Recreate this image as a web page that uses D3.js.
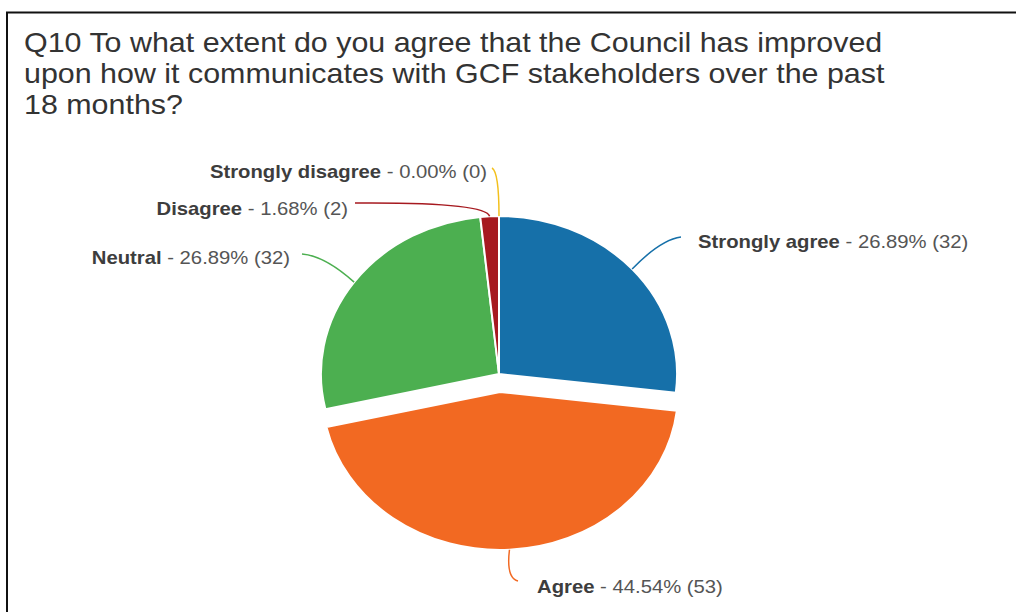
<!DOCTYPE html>
<html>
<head>
<meta charset="utf-8">
<script src="https://cdn.jsdelivr.net/npm/d3@7"></script>
<style>
  html, body { margin: 0; padding: 0; background: #fff; }
  svg { display: block; }
  text { font-family: "Liberation Sans", Arial, Helvetica, sans-serif; }
</style>
</head>
<body>
<svg id="chart" width="1016" height="612"></svg>
<script>
// Survey responses, in the order they are drawn clockwise from 12 o'clock
const categories = ["Strongly agree", "Agree", "Neutral", "Disagree", "Strongly disagree"];
const counts = [32, 53, 32, 2, 0];
const colors = ["#1670a9", "#f26922", "#4caf50", "#a6191f", "#f3c01c"];
const titleLines = [
  "Q10 To what extent do you agree that the Council has improved",
  "upon how it communicates with GCF stakeholders over the past",
  "18 months?"
];

const total = d3.sum(counts);
const data = categories.map((c, i) => ({ name: c, count: counts[i], color: colors[i] }));

// The whole panel is drawn a little wider than tall
const sx = 1.127;

const svg = d3.select("#chart");

// Frame around the panel
svg.append("rect")
  .attr("x", 7).attr("y", 12.5)
  .attr("width", 1030).attr("height", 640)
  .attr("fill", "none").attr("stroke", "#111").attr("stroke-width", 2);

// Title
svg.append("g").selectAll("text")
  .data(titleLines)
  .join("text")
  .attr("transform", (d, i) => `translate(24,${52 + i * 31}) scale(${sx},1)`)
  .attr("font-size", 27)
  .attr("fill", "#333")
  .text(d => d);

// Pie
const cx = 499, cy = 374, R = 158;
const pie = d3.pie().sort(null).value(d => d.count);
const arcs = pie(data);
const arc = d3.arc().innerRadius(0).outerRadius(R);
const explode = { "Agree": 18 };

const g = svg.append("g").attr("transform", `translate(${cx},${cy}) scale(${sx},1)`);
g.selectAll("path")
  .data(arcs)
  .join("path")
  .attr("transform", d => {
    const off = explode[d.data.name] || 0;
    const a = (d.startAngle + d.endAngle) / 2;
    return `translate(${Math.sin(a) * off},${-Math.cos(a) * off})`;
  })
  .attr("d", arc)
  .attr("fill", d => d.data.color)
  .attr("stroke", "#fff")
  .attr("stroke-width", 2)
  .attr("vector-effect", "non-scaling-stroke");

// Point on the rim of a slice at its mid angle, in page coordinates
function rimPoint(d) {
  const off = explode[d.data.name] || 0;
  const a = (d.startAngle + d.endAngle) / 2;
  return [cx + Math.sin(a) * (R + off) * sx, cy - Math.cos(a) * (R + off)];
}

// Label placement and leader geometry for each slice
const labelLayout = {
  "Strongly agree":    { x: 698, y: 248, anchor: "start", end: [681, 237], ctrl: [660, 240] },
  "Agree":             { x: 537, y: 593, anchor: "start", end: [518, 581], ctrl: [506, 578] },
  "Neutral":           { x: 290, y: 264, anchor: "end",   end: [302, 254], ctrl: [325, 256] },
  "Disagree":          { x: 348, y: 215, anchor: "end",   end: [355, 203], ctrl: [486, 202] },
  "Strongly disagree": { x: 487, y: 178, anchor: "end",   end: [492, 168], ctrl: [499, 172] }
};

const fmt = d3.format(".2%");
const labels = svg.append("g");
arcs.forEach(d => {
  const L = labelLayout[d.data.name];
  const p0 = rimPoint(d);
  labels.append("path")
    .attr("d", `M${p0[0]},${p0[1]} Q${L.ctrl[0]},${L.ctrl[1]} ${L.end[0]},${L.end[1]}`)
    .attr("fill", "none")
    .attr("stroke", d.data.color)
    .attr("stroke-width", 1.5);
  const t = labels.append("text")
    .attr("transform", `translate(${L.x},${L.y}) scale(${sx},1)`)
    .attr("text-anchor", L.anchor)
    .attr("font-size", 18);
  t.append("tspan").attr("font-weight", "bold").attr("fill", "#3d3d3d").text(d.data.name);
  t.append("tspan").attr("fill", "#555").text(` - ${fmt(d.data.count / total)} (${d.data.count})`);
});
</script>
</body>
</html>
